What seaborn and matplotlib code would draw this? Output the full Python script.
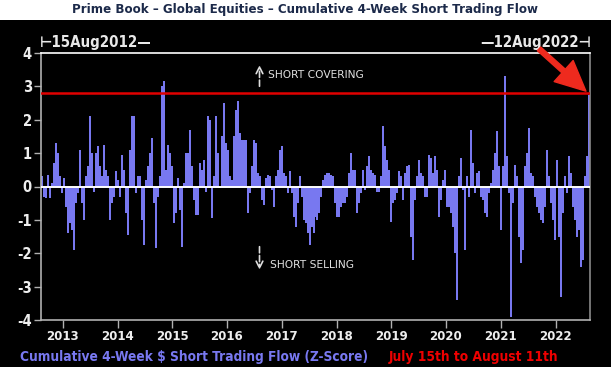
import numpy as np
import pandas as pd
import matplotlib
matplotlib.use("Agg")
import matplotlib.pyplot as plt
import seaborn as sns
from matplotlib.patches import Rectangle, FancyArrowPatch

# ---------------- data (biweekly readings of the Z-score) ----------------
start_date = "2012-08-15"
end_date = "2022-08-12"
z_2012_2014 = [0.3, -0.3, -0.35, 0.35, -0.35, 0.1, 0.7, 1.3, 1.0, 0.3, -0.2, 0.25,
               -0.6, -1.4, -1.1, -1.3, -1.9, -0.5, -0.2, 1.1, -0.5, -1.0, 0.3, 0.6,
               2.1, 1.0, -0.15, 1.0, 1.2, 0.6, 0.3, 1.25, 0.5, 0.3, -1.0, -0.5,
               -0.3, 0.45, 0.2, -0.3, 0.95, 0.5, -0.8, -1.45, 1.1, 2.1]
z_2014_2016 = [2.1, -0.2, 0.3, 0.3, -1.0, -1.75, 0.2, 0.6, 1.0, 1.45, -0.5, -1.85,
               -0.3, 0.3, 3.0, 3.15, 0.5, 1.25, 1.0, 0.6, -1.1, -0.8, 0.25, -0.7,
               -1.8, 0.1, 1.0, 1.0, 1.7, 0.6, -0.4, -0.85, -0.85, 0.7, 0.5, 0.8,
               -0.15, 2.1, 2.0, -0.95, 0.3, 2.1, 1.0, -0.05, 1.5, 2.5]
z_2016_2017 = [1.3, 1.1, 0.3, 0.2, 1.5, 2.3, 2.55, 1.6, 1.4, 1.4, 1.4, -0.8,
               -0.2, 0.6, 1.4, 1.3, 0.4, 0.3, -0.4, -0.55, 0.25, 0.35, 0.3, -0.1,
               -0.6, 0.3, 0.5, 1.1, 1.2, 0.4, 0.3, -0.2, 0.45, -0.2, -0.9, -1.2,
               -0.5, 0.3, -0.3, -1.0, -1.1, -1.4, -1.75, -1.2, -1.4, -0.9]
z_2017_2019 = [-1.0, -0.8, -0.3, 0.2, 0.35, 0.4, 0.4, 0.35, 0.3, -0.5, -0.9, -0.9,
               -0.6, -0.5, -0.5, -0.3, 0.4, 1.0, 0.5, 0.5, -0.8, -0.5, -0.2, 0.5,
               -0.1, 0.6, 0.9, 0.5, 0.4, 0.35, -0.15, -0.15, 0.3, 1.8, 1.2, 0.8,
               0.5, -1.05, -0.5, -0.4, -0.2, 0.45, 0.3, -0.4, 0.4, 0.6]
z_2019_2020 = [0.65, -1.5, -2.2, -0.4, 0.3, 0.8, 0.4, 0.3, -0.3, -0.3, 0.95, 0.85,
               0.4, 0.9, 0.5, -0.9, -0.4, 0.2, 0.5, -0.6, -0.6, -0.8, -1.2, -2.0,
               -3.4, 0.3, 0.85, -0.1, -1.9, 0.3, -0.3, 1.7, 0.7, -0.2, 0.4, 0.45,
               -0.3, -0.4, -0.8, -0.9, -0.2, 0.1, 0.5, 1.0, 1.65, 0.6]
z_2020_2022 = [-1.3, 0.6, 3.3, 0.9, -0.2, -3.9, -0.5, 0.65, 0.3, -1.5, -2.3, -1.9,
               0.6, 1.0, 1.75, 0.4, 0.3, -0.3, -0.6, -0.8, -1.0, -1.1, -0.6, 1.1,
               0.3, -0.5, -1.0, -1.6, 0.8, -1.5, -3.3, -0.8, 0.3, -0.2, 0.9, 0.4,
               -0.6, -1.0, -1.5, -1.3, -2.4, -2.2, 0.3, 0.9, 2.75]
current_level = 2.8
year_ticks = [2013, 2014, 2015, 2016, 2017, 2018, 2019, 2020, 2021, 2022]
y_ticks = [-4, -3, -2, -1, 0, 1, 2, 3, 4]

title = "Prime Book – Global Equities – Cumulative 4-Week Short Trading Flow"
start_label = "15Aug2012"
end_label = "12Aug2022"
legend_series = "Cumulative 4-Week $ Short Trading Flow (Z-Score)"
legend_period = "July 15th to August 11th"

values = np.array(z_2012_2014 + z_2014_2016 + z_2016_2017 + z_2017_2019 + z_2019_2020 + z_2020_2022)
dates = pd.date_range(start_date, end_date, periods=len(values))
idx = np.arange(len(values))
df = pd.DataFrame({"i": idx, "z": values})
tick_pos = [np.interp(pd.Timestamp(f"{y}-01-01").value, dates.asi8, idx) for y in year_ticks]

sns.set_theme(style="dark")
plt.rcParams["font.family"] = ["DejaVu Sans"]
COND = dict(family=["DejaVu Sans"], fontstretch="condensed", fontweight="bold")

BAR = "#7878f0"
GREY = "#b0b0b0"

fig = plt.figure(figsize=(6.11, 3.67), dpi=100, facecolor="black")
fig.patches.append(Rectangle((0, 1 - 20 / 367), 1, 20 / 367, transform=fig.transFigure,
                             facecolor="white", edgecolor="none", zorder=0))
ax = fig.add_axes([41 / 611, 1 - 320 / 367, 549 / 611, 267 / 367])
ax.set_facecolor("black")

sns.barplot(data=df, x="i", y="z", native_scale=True, color=BAR, width=1.0,
            linewidth=0, edgecolor="none", saturation=1, ax=ax, zorder=2)

ax.set_xlim(-0.5, len(values) - 0.5)
ax.set_ylim(-4, 4)
ax.axhline(0, color="white", lw=1.4, zorder=3)
ax.axhline(current_level, color="#e00000", lw=1.8, zorder=4)
ax.grid(False)

ax.set_xticks(tick_pos)
ax.set_xticklabels([str(y) for y in year_ticks], fontsize=11, color="#eeeeee", **COND)
ax.set_yticks(y_ticks)
ax.set_yticklabels([str(y) for y in y_ticks], fontsize=10.5, color="#eeeeee", **COND)
ax.tick_params(axis="x", direction="out", length=6, width=1, color=GREY, pad=1, bottom=True)
ax.tick_params(axis="y", direction="out", length=5, width=1, color=GREY, pad=1.5, left=True)
ax.set_xlabel("")
ax.set_ylabel("")
for s in ["left", "bottom", "right"]:
    ax.spines[s].set_visible(True)
    ax.spines[s].set_color(GREY)
    ax.spines[s].set_linewidth(1.2)
ax.spines["top"].set_visible(True)
ax.spines["top"].set_color("white")
ax.spines["top"].set_linewidth(1.2)
ax.spines["right"].set_color("#8a8a8a")

texts = []
t_title = fig.text(0.5, 1 - 10 / 367, title, ha="center", va="center", fontsize=10,
                   fontweight="bold", color="#1c2a4a")
texts.append((t_title, 465))
t_start = fig.text(40 / 611, 1 - 43 / 367, "⊢" + start_label + "—", ha="left", va="center",
                   fontsize=11, color="#e8e8e8", **COND)
texts.append((t_start, 112))
t_end = fig.text(591 / 611, 1 - 43 / 367, "—" + end_label + "⊣", ha="right", va="center",
                 fontsize=11, color="#e8e8e8", **COND)
texts.append((t_end, 111))

ax.annotate("", xy=(0.398, 0.965), xytext=(0.398, 0.865), xycoords="axes fraction",
            arrowprops=dict(arrowstyle="->", color="#dddddd", lw=1.2, ls="--"))
ax.text(0.413, 0.917, "SHORT COVERING", transform=ax.transAxes, ha="left", va="center",
        fontsize=7.7, color="#e0e0e0")
ax.annotate("", xy=(0.398, 0.178), xytext=(0.398, 0.285), xycoords="axes fraction",
            arrowprops=dict(arrowstyle="->", color="#dddddd", lw=1.2, ls="--"))
ax.text(0.417, 0.205, "SHORT SELLING", transform=ax.transAxes, ha="left", va="center",
        fontsize=7.7, color="#e0e0e0")

arr = FancyArrowPatch((537 / 611, 1 - 47 / 367), (588 / 611, 1 - 93 / 367),
                      transform=fig.transFigure,
                      arrowstyle="simple,head_length=1.8,head_width=1.7,tail_width=0.3",
                      mutation_scale=12, color="#ee2a1e", zorder=10)
fig.patches.append(arr)

t_ser = fig.text(20 / 611, 1 - 357 / 367, legend_series, ha="left", va="center", fontsize=12,
                 color=BAR, **COND)
texts.append((t_ser, 348))
t_per = fig.text(389 / 611, 1 - 357 / 367, legend_period, ha="left", va="center", fontsize=12,
                 color="#ee0000", **COND)
texts.append((t_per, 171))

# fit text widths to the reference layout
r = fig.canvas.get_renderer()
for t, target in texts:
    w = t.get_window_extent(r).width
    t.set_fontsize(t.get_fontsize() * target / w)
for lab in ax.get_xticklabels():
    w = lab.get_window_extent(r).width
    lab.set_fontsize(lab.get_fontsize() * 33 / w)

fig.savefig("out.png", dpi=100, facecolor="black")
